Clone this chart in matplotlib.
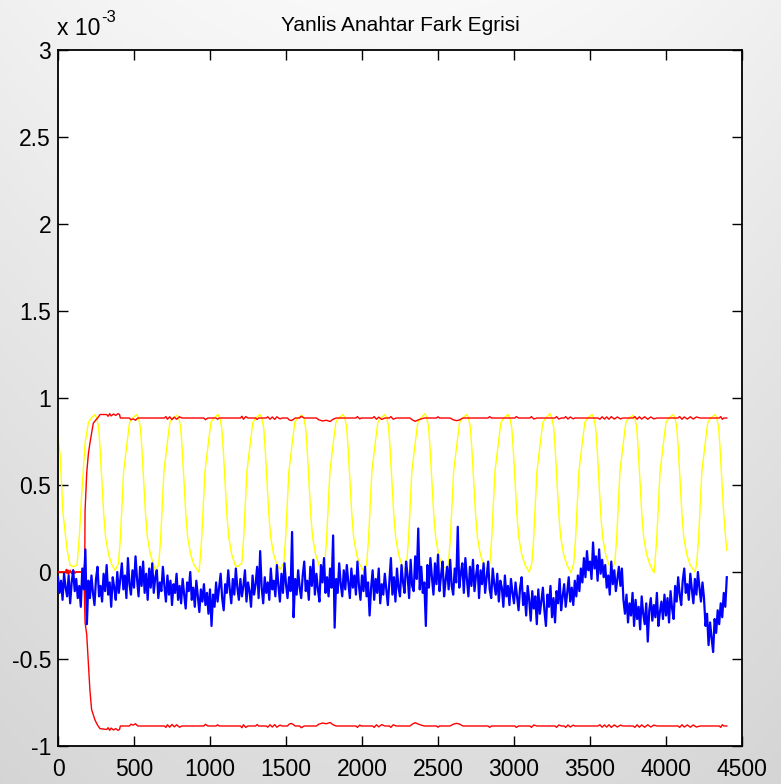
import numpy as np
import matplotlib
matplotlib.use("Agg")
import matplotlib.pyplot as plt

plt.rcParams['font.family'] = ['Liberation Sans', 'DejaVu Sans']

# ---------------- data (values in units of 1e-3) ----------------
title = "Yanlis Anahtar Fark Egrisi"
x_ticks = [0, 500, 1000, 1500, 2000, 2500, 3000, 3500, 4000, 4500]
y_ticks = [-1, -0.5, 0, 0.5, 1, 1.5, 2, 2.5, 3]
y_tick_labels = ['-1', '-0.5', '0', '0.5', '1', '1.5', '2', '2.5', '3']

# yellow curve: start segment, peaks, troughs and read cycle shape
yellow_start_x = [0, 13, 33, 59, 79, 100, 125, 140, 156, 178, 200, 225]
yellow_start_y = [0.78, 0.68, 0.34, 0.13, 0.04, 0.03, 0.04, 0.20, 0.45, 0.74, 0.86, 0.89]
yellow_peaks = [243, 518, 783, 1053, 1329, 1605, 1875, 2151, 2414, 2689, 2961, 3237, 3513, 3783, 4047, 4322]
yellow_peak_vals = [0.905, 0.905, 0.90, 0.905, 0.905, 0.90, 0.905, 0.905, 0.91, 0.905, 0.905, 0.91, 0.905, 0.90, 0.905, 0.905]
yellow_troughs = [375, 645, 928, 1180, 1461, 1730, 2015, 2290, 2559, 2829, 3100, 3375, 3650, 3921, 4191]
yellow_trough_vals = [0.01, 0.0, 0.0, 0.03, 0.015, 0.02, 0.0, 0.0, 0.015, 0.0, 0.0, -0.005, 0.03, -0.005, 0.0]
fall_dx = [12, 24, 33, 42, 50, 58, 70, 90, 112]
fall_y = [0.885, 0.83, 0.72, 0.58, 0.45, 0.33, 0.20, 0.10, 0.04]
rise_dx = [-120, -108, -97, -86, -70, -60, -47, -28]
rise_y = [0.05, 0.19, 0.385, 0.58, 0.70, 0.77, 0.86, 0.885]
yellow_end_x = 4400
yellow_end_y = 0.125

# red curves
red_start_x = [0, 50, 55, 60, 65, 70, 80, 90, 100, 110, 120, 170]
red_start_y = [0, 0, 0.015, -0.01, 0.012, -0.015, 0.01, -0.01, 0.012, -0.008, 0, 0]
red_up_rise_x = [176, 178, 189, 200, 210, 232, 250, 265]
red_up_rise_y = [0.06, 0.35, 0.57, 0.68, 0.74, 0.855, 0.875, 0.89]
red_lo_fall_x = [178, 189, 200, 210, 221, 243, 260]
red_lo_fall_y = [-0.29, -0.36, -0.53, -0.68, -0.79, -0.85, -0.88]
red_plateau_x = [276, 320, 330, 340, 350, 365, 380, 395, 405, 410,
                 470, 480, 495, 510, 525,
                 700, 710, 720, 735, 750, 765, 780, 800, 815,
                 960, 970, 985, 1040, 1050, 1060,
                 1200, 1210, 1220, 1235, 1250, 1300, 1310, 1320,
                 1370, 1380, 1395, 1410, 1425, 1440, 1460, 1475,
                 1510, 1520, 1535, 1550, 1560, 1590, 1600, 1620,
                 1700, 1715, 1740, 1765, 1790, 1810, 1830,
                 1960, 1970, 1985, 1995,
                 2070, 2080, 2095, 2110, 2130, 2150, 2180, 2190, 2205, 2225,
                 2316, 2330, 2350, 2370, 2390, 2410, 2447, 2490, 2500, 2510,
                 2579, 2600, 2620, 2640, 2664, 2829, 2840, 2851,
                 3005, 3015, 3030, 3105, 3115, 3130, 3150,
                 3270, 3280, 3295, 3310, 3330, 3340, 3355, 3370, 3390, 3400,
                 3553, 3565, 3580, 3595, 3610, 3625, 3640, 3660, 3680, 3700, 3717,
                 3783, 3795, 3810, 3825, 3840, 3860, 3880, 3900, 3920, 3941,
                 4079, 4090, 4105, 4120, 4140, 4160, 4180, 4200, 4224,
                 4350, 4360, 4370, 4380, 4400]
red_plateau_y = [0.905, 0.905, 0.895, 0.91, 0.897, 0.908, 0.90, 0.91, 0.905, 0.885,
                 0.885, 0.875, 0.88, 0.872, 0.885,
                 0.885, 0.893, 0.878, 0.892, 0.876, 0.89, 0.878, 0.892, 0.885,
                 0.885, 0.875, 0.885, 0.885, 0.878, 0.885,
                 0.885, 0.895, 0.878, 0.893, 0.885, 0.885, 0.877, 0.885,
                 0.885, 0.892, 0.878, 0.891, 0.877, 0.892, 0.88, 0.885,
                 0.885, 0.875, 0.87, 0.878, 0.885, 0.885, 0.895, 0.885,
                 0.885, 0.875, 0.868, 0.872, 0.865, 0.878, 0.885,
                 0.885, 0.893, 0.88, 0.885,
                 0.885, 0.893, 0.878, 0.89, 0.877, 0.885, 0.885, 0.893, 0.878, 0.885,
                 0.885, 0.875, 0.866, 0.874, 0.88, 0.885, 0.885, 0.885, 0.892, 0.885,
                 0.885, 0.875, 0.87, 0.873, 0.885, 0.885, 0.893, 0.885,
                 0.885, 0.893, 0.885, 0.885, 0.893, 0.879, 0.885,
                 0.885, 0.893, 0.879, 0.885, 0.885, 0.893, 0.879, 0.891, 0.88, 0.885,
                 0.885, 0.878, 0.892, 0.879, 0.891, 0.878, 0.893, 0.879, 0.891, 0.88, 0.885,
                 0.885, 0.893, 0.878, 0.892, 0.879, 0.892, 0.878, 0.891, 0.88, 0.885,
                 0.885, 0.893, 0.878, 0.891, 0.879, 0.892, 0.879, 0.891, 0.885,
                 0.885, 0.893, 0.878, 0.885, 0.885]

# blue curve, one value every 10 samples
blue_step = 10
blue_y = [
    -0.03, -0.12, -0.05, -0.16, -0.01, -0.09, -0.14, -0.02, -0.18, -0.06, 0.01, -0.11, -0.04, -0.15, -0.08, -0.20, 0.02, -0.10, 0.13, -0.30,
    -0.05, -0.15, -0.02, -0.12, -0.19, -0.04, 0.03, -0.14, -0.08, -0.17, -0.01, -0.11, 0.04, -0.13, -0.06, -0.20, -0.03, -0.09, -0.16, 0.00,
    -0.12, -0.04, 0.05, -0.10, -0.02, -0.15, 0.08, -0.07, -0.13, 0.01, -0.09, 0.09, -0.04, -0.14, 0.03, -0.08, 0.06, -0.12, -0.01, -0.16,
    0.02, -0.09, 0.05, -0.12, -0.03, 0.01, -0.15, -0.06, -0.11, 0.03, -0.08, -0.17, -0.02, -0.13, -0.05, -0.19, -0.07, -0.12, -0.01, -0.16,
    -0.08, -0.18, -0.04, -0.13, -0.21, -0.06, -0.11, 0.00, -0.16, -0.09, -0.20, -0.05, -0.14, -0.23, -0.10, -0.17, -0.07, -0.19, -0.12, -0.24,
    -0.10, -0.31, -0.13, -0.20, -0.06, -0.17, -0.09, -0.01, -0.15, -0.22, -0.07, -0.12, 0.01, -0.10, -0.18, -0.04, -0.13, 0.02, -0.09, -0.16,
    -0.04, -0.14, -0.08, 0.01, -0.17, -0.06, -0.11, -0.20, -0.02, -0.13, -0.07, 0.03, -0.15, 0.12, -0.09, -0.18, -0.03, -0.12, -0.06, -0.16,
    0.02, -0.10, -0.05, -0.14, 0.04, -0.08, -0.17, -0.01, -0.12, 0.05, -0.07, -0.15, -0.03, -0.11, 0.23, -0.26, -0.04, -0.13, 0.01, -0.09,
    -0.15, -0.02, 0.06, -0.11, -0.05, -0.16, 0.03, -0.08, 0.07, -0.13, -0.01, -0.10, -0.17, 0.04, -0.06, 0.08, -0.12, -0.03, -0.14, 0.02,
    -0.09, 0.21, -0.32, -0.04, -0.12, 0.05, -0.07, -0.14, 0.01, -0.10, 0.04, -0.06, -0.15, 0.02, -0.09, -0.02, -0.13, 0.06, -0.08, -0.16,
    -0.02, -0.11, 0.03, -0.14, -0.06, -0.25, -0.09, 0.01, -0.16, -0.04, -0.12, 0.02, -0.18, -0.07, -0.13, -0.01, -0.10, -0.19, -0.05, 0.08,
    -0.13, -0.03, -0.17, 0.02, -0.09, -0.14, 0.04, -0.06, -0.12, 0.06, -0.02, -0.15, 0.07, -0.08, -0.11, 0.09, -0.04, 0.25, -0.10, 0.03,
    -0.12, -0.06, -0.31, 0.04, -0.09, 0.08, -0.03, -0.13, 0.05, -0.07, 0.10, -0.11, -0.02, 0.06, -0.14, -0.05, 0.03, -0.10, 0.07, -0.08,
    -0.13, 0.02, -0.06, 0.26, -0.09, -0.01, 0.05, -0.12, 0.08, -0.04, -0.14, 0.03, -0.08, 0.07, -0.11, -0.02, 0.04, -0.15, 0.01, -0.07,
    0.05, -0.12, -0.03, 0.06, -0.10, -0.15, 0.02, -0.07, -0.13, -0.01, -0.17, -0.05, -0.09, -0.20, -0.02, -0.14, -0.08, -0.19, -0.04, -0.12,
    -0.18, -0.06, -0.14, -0.22, -0.09, -0.03, -0.19, -0.12, -0.25, -0.08, -0.16, -0.28, -0.11, -0.21, -0.14, -0.30, -0.10, -0.24, -0.17, -0.09,
    -0.22, -0.31, -0.13, -0.20, -0.08, -0.26, -0.15, -0.29, -0.11, -0.18, -0.04, -0.22, -0.14, -0.07, -0.20, -0.12, -0.03, -0.17, -0.09, -0.19,
    -0.05, -0.14, -0.02, -0.11, 0.02, -0.06, 0.08, -0.03, 0.12, 0.01, 0.06, -0.04, 0.17, 0.02, 0.09, -0.05, 0.13, -0.01, 0.07, -0.03,
    0.04, -0.09, -0.02, -0.13, 0.06, -0.07, 0.01, -0.11, -0.04, 0.03, -0.08, 0.02, -0.16, -0.24, -0.13, -0.29, -0.18, -0.25, -0.12, -0.31,
    -0.16, -0.27, -0.20, -0.33, -0.14, -0.24, -0.30, -0.18, -0.40, -0.22, -0.15, -0.28, -0.19, -0.26, -0.12, -0.31, -0.23, -0.17, -0.27, -0.13,
    -0.25, -0.15, -0.29, -0.11, -0.21, -0.27, -0.08, -0.17, -0.03, -0.13, -0.19, -0.05, 0.02, -0.12, -0.07, -0.16, -0.01, -0.10, -0.18, -0.04,
    -0.13, 0.00, -0.09, -0.17, -0.06, -0.15, -0.31, -0.24, -0.42, -0.29, -0.38, -0.46, -0.27, -0.35, -0.22, -0.30, -0.18, -0.26, -0.12, -0.20,
    -0.03,
]

# ---------------- build polylines from the read values ----------------
yx = list(yellow_start_x)
yy = list(yellow_start_y)
for i, p in enumerate(yellow_peaks):
    yx.append(p); yy.append(yellow_peak_vals[i])
    for dx, v in zip(fall_dx, fall_y):
        if p + dx < yellow_end_x:
            yx.append(p + dx); yy.append(v)
    if i < len(yellow_troughs):
        t = yellow_troughs[i]
        yx.append(t); yy.append(yellow_trough_vals[i])
        nxt = yellow_peaks[i + 1]
        for dx, v in zip(rise_dx, rise_y):
            yx.append(nxt + dx); yy.append(v)
yx.append(yellow_end_x); yy.append(yellow_end_y)

rux = red_start_x + red_up_rise_x + red_plateau_x
ruy = red_start_y + red_up_rise_y + red_plateau_y
rlx = [0, 170] + red_lo_fall_x + red_plateau_x
rly = [0, 0] + red_lo_fall_y + [-v + 0.005 if i == 0 else -v for i, v in enumerate(red_plateau_y)]

bx = [i * blue_step for i in range(len(blue_y))]

# ---------------- figure ----------------
fig = plt.figure(figsize=(7.81, 7.84), dpi=100)
bg = fig.add_axes([0, 0, 1, 1], zorder=-10)
gy = np.linspace(0.975, 0.865, 300)[:, None]
gx = 1 - 0.035 * (np.abs(np.linspace(-1, 1, 300))[None, :] ** 2)
g = gy * gx
bg.imshow(np.dstack([g, g, g]), aspect='auto', extent=[0, 1, 0, 1], origin='upper')
bg.set_axis_off()

ax = fig.add_axes([58 / 781, 38 / 784, 684 / 781, 696 / 784])
ax.set_facecolor('white')
ax.plot(yx, yy, color='#ffff00', lw=1.0, zorder=2)
ax.plot(rux, ruy, color='#ff0000', lw=1.0, zorder=3)
ax.plot(rlx, rly, color='#ff0000', lw=1.0, zorder=3)
ax.plot(bx, blue_y, color='#0000ff', lw=1.6, zorder=4)

ax.set_xlim(0, 4500)
ax.set_ylim(-1, 3)
ax.set_xticks(x_ticks)
ax.set_xticklabels([str(v) for v in x_ticks])
ax.set_yticks(y_ticks)
ax.set_yticklabels(y_tick_labels)
ax.tick_params(direction='in', length=7, width=1, top=True, right=True,
               labelsize=16.5, colors='black')
ax.tick_params(axis='x', pad=9)
ax.tick_params(axis='y', pad=5)
for s in ax.spines.values():
    s.set_linewidth(1.3)
    s.set_color('black')

ax.set_title(title, fontsize=15, pad=14)
fig.text(57 / 781, 1 - 35 / 784, 'x 10', fontsize=16.5, ha='left', va='baseline')
fig.text(101 / 781, 1 - 22 / 784, '-3', fontsize=12, ha='left', va='baseline')

fig.savefig('out.png', dpi=100)
